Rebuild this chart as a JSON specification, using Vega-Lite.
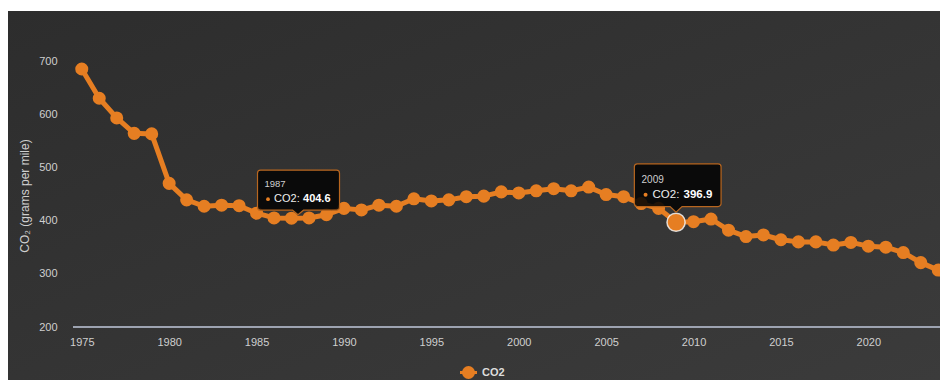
{
  "$schema": "https://vega.github.io/schema/vega-lite/v6.json",
  "width": 932,
  "height": 369,
  "autosize": {"type": "none"},
  "padding": {"left": 8, "top": 11, "right": 0, "bottom": 0},
  "background": "#ffffff",
  "config": {
    "font": "Liberation Sans",
    "view": {
      "stroke": null,
      "fill": {
        "gradient": "linear",
        "x1": 0, "y1": 0, "x2": 1, "y2": 1,
        "stops": [
          {"offset": 0, "color": "#2d2d2d"},
          {"offset": 1, "color": "#3b3b3b"}
        ]
      }
    },
    "axis": {
      "grid": false,
      "domain": false,
      "ticks": false,
      "tickSize": 0,
      "labelColor": "#cfcfcf",
      "labelFontSize": 11,
      "labelFont": "Liberation Sans",
      "titleFont": "Liberation Sans"
    }
  },
  "data": {
    "values": [
      {"year": 1975, "co2": 685},
      {"year": 1976, "co2": 630},
      {"year": 1977, "co2": 593},
      {"year": 1978, "co2": 564},
      {"year": 1979, "co2": 563},
      {"year": 1980, "co2": 470},
      {"year": 1981, "co2": 439},
      {"year": 1982, "co2": 427},
      {"year": 1983, "co2": 429},
      {"year": 1984, "co2": 428},
      {"year": 1985, "co2": 414},
      {"year": 1986, "co2": 405},
      {"year": 1987, "co2": 404.6},
      {"year": 1988, "co2": 405},
      {"year": 1989, "co2": 411},
      {"year": 1990, "co2": 423},
      {"year": 1991, "co2": 420},
      {"year": 1992, "co2": 429},
      {"year": 1993, "co2": 427},
      {"year": 1994, "co2": 441},
      {"year": 1995, "co2": 437},
      {"year": 1996, "co2": 439},
      {"year": 1997, "co2": 445},
      {"year": 1998, "co2": 446},
      {"year": 1999, "co2": 454},
      {"year": 2000, "co2": 452},
      {"year": 2001, "co2": 456},
      {"year": 2002, "co2": 460},
      {"year": 2003, "co2": 456},
      {"year": 2004, "co2": 463},
      {"year": 2005, "co2": 449},
      {"year": 2006, "co2": 445},
      {"year": 2007, "co2": 432},
      {"year": 2008, "co2": 423},
      {"year": 2009, "co2": 396.9},
      {"year": 2010, "co2": 398},
      {"year": 2011, "co2": 403},
      {"year": 2012, "co2": 382},
      {"year": 2013, "co2": 370},
      {"year": 2014, "co2": 373},
      {"year": 2015, "co2": 364},
      {"year": 2016, "co2": 360},
      {"year": 2017, "co2": 360},
      {"year": 2018, "co2": 354},
      {"year": 2019, "co2": 359},
      {"year": 2020, "co2": 352},
      {"year": 2021, "co2": 350},
      {"year": 2022, "co2": 340},
      {"year": 2023, "co2": 321},
      {"year": 2024, "co2": 307}
    ]
  },
  "encoding": {
    "x": {
      "field": "year",
      "type": "quantitative",
      "scale": {"domain": [1970.78, 2024.1], "nice": false, "zero": false},
      "axis": {
        "title": null,
        "orient": "bottom",
        "offset": -53,
        "labelPadding": 9,
        "values": [1975, 1980, 1985, 1990, 1995, 2000, 2005, 2010, 2015, 2020],
        "format": "d"
      }
    },
    "y": {
      "field": "co2",
      "type": "quantitative",
      "scale": {"domain": [100.4, 794], "nice": false, "zero": false},
      "axis": {
        "title": "CO₂ (grams per mile)",
        "titleColor": "#cfcfcf",
        "titleFontSize": 12,
        "titleFontWeight": "normal",
        "titlePadding": 7,
        "offset": -49,
        "labelPadding": 0,
        "values": [200, 300, 400, 500, 600, 700]
      }
    }
  },
  "layer": [
    {
      "mark": {"type": "rule", "color": "#9ea3b2", "strokeWidth": 1.5},
      "encoding": {
        "x": {"datum": 1974.5, "type": "quantitative"},
        "x2": {"datum": 2026},
        "y": {"datum": 200, "type": "quantitative"}
      }
    },
    {
      "mark": {"type": "line", "strokeWidth": 5, "strokeJoin": "round"},
      "encoding": {
        "color": {
          "datum": "CO2",
          "type": "nominal",
          "scale": {"range": ["#e67e22"]},
          "legend": {
            "orient": "none",
            "legendX": 454,
            "legendY": 355,
            "title": null,
            "padding": 0,
            "symbolType": "M-1.7,0L1.7,0M-1,0A1,1,0,1,1,1,0A1,1,0,1,1,-1,0Z",
            "symbolSize": 100,
            "symbolStrokeWidth": 3,
            "labelOffset": 7,
            "labelColor": "#dddddd",
            "labelFontSize": 11,
            "labelFontWeight": "bold",
            "labelFont": "Liberation Sans",
            "encode": {
              "symbols": {
                "update": {
                  "fill": {"value": "#e67e22"},
                  "stroke": {"value": "#e67e22"},
                  "opacity": {"value": 1}
                }
              }
            }
          }
        }
      }
    },
    {
      "mark": {"type": "circle", "size": 170, "opacity": 1},
      "encoding": {
        "color": {"datum": "CO2", "type": "nominal"}
      }
    },
    {
      "transform": [{"filter": "datum.year == 2009"}],
      "mark": {
        "type": "circle",
        "size": 330,
        "opacity": 1,
        "fill": "#e67e22",
        "stroke": "#f2f2f2",
        "strokeWidth": 1.5,
        "strokeOpacity": 0.85
      }
    },
    {
      "transform": [{"filter": "datum.year == 1987"}],
      "mark": {
        "type": "point",
        "shape": "M-31,-48H45A3,3,0,0,1,48,-45V-11A3,3,0,0,1,45,-8H12L6.5,-3.5L1,-8H-31A3,3,0,0,1,-34,-11V-45A3,3,0,0,1,-31,-48Z",
        "size": 4,
        "filled": true,
        "fill": "#050505",
        "fillOpacity": 0.88,
        "stroke": "#b8661f",
        "strokeWidth": 1.2,
        "opacity": 1
      }
    },
    {
      "transform": [{"filter": "datum.year == 1987"}],
      "mark": {"type": "text", "align": "left", "baseline": "middle", "dx": -27, "dy": -34, "fontSize": 9.5, "color": "#cfcfcf"},
      "encoding": {"text": {"field": "year", "type": "quantitative", "format": "d"}}
    },
    {
      "transform": [{"filter": "datum.year == 1987"}],
      "mark": {"type": "circle", "size": 14, "opacity": 1, "color": "#e67e22", "xOffset": -23.5, "yOffset": -19}
    },
    {
      "transform": [{"filter": "datum.year == 1987"}],
      "mark": {"type": "text", "align": "left", "baseline": "middle", "dx": -17.5, "dy": -19, "fontSize": 11, "color": "#eeeeee", "text": "CO2:"}
    },
    {
      "transform": [{"filter": "datum.year == 1987"}],
      "mark": {"type": "text", "align": "left", "baseline": "middle", "dx": 11.5, "dy": -19, "fontSize": 11, "fontWeight": "bold", "color": "#ffffff"},
      "encoding": {"text": {"field": "co2", "type": "quantitative", "format": ".1f"}}
    },
    {
      "transform": [{"filter": "datum.year == 2009"}],
      "mark": {
        "type": "point",
        "shape": "M-38.7,-58.4H42A3,3,0,0,1,45,-55.4V-18.7A3,3,0,0,1,42,-15.7H6L0,-10L-6,-15.7H-38.7A3,3,0,0,1,-41.7,-18.7V-55.4A3,3,0,0,1,-38.7,-58.4Z",
        "size": 4,
        "filled": true,
        "fill": "#050505",
        "fillOpacity": 0.88,
        "stroke": "#b8661f",
        "strokeWidth": 1.2,
        "opacity": 1
      }
    },
    {
      "transform": [{"filter": "datum.year == 2009"}],
      "mark": {"type": "text", "align": "left", "baseline": "middle", "dx": -34.5, "dy": -42.5, "fontSize": 10, "color": "#cfcfcf"},
      "encoding": {"text": {"field": "year", "type": "quantitative", "format": "d"}}
    },
    {
      "transform": [{"filter": "datum.year == 2009"}],
      "mark": {"type": "circle", "size": 16, "opacity": 1, "color": "#e67e22", "xOffset": -30.5, "yOffset": -27.5}
    },
    {
      "transform": [{"filter": "datum.year == 2009"}],
      "mark": {"type": "text", "align": "left", "baseline": "middle", "dx": -23.5, "dy": -27.5, "fontSize": 11.5, "color": "#eeeeee", "text": "CO2:"}
    },
    {
      "transform": [{"filter": "datum.year == 2009"}],
      "mark": {"type": "text", "align": "left", "baseline": "middle", "dx": 7.5, "dy": -27.5, "fontSize": 11.5, "fontWeight": "bold", "color": "#ffffff"},
      "encoding": {"text": {"field": "co2", "type": "quantitative", "format": ".1f"}}
    }
  ]
}
